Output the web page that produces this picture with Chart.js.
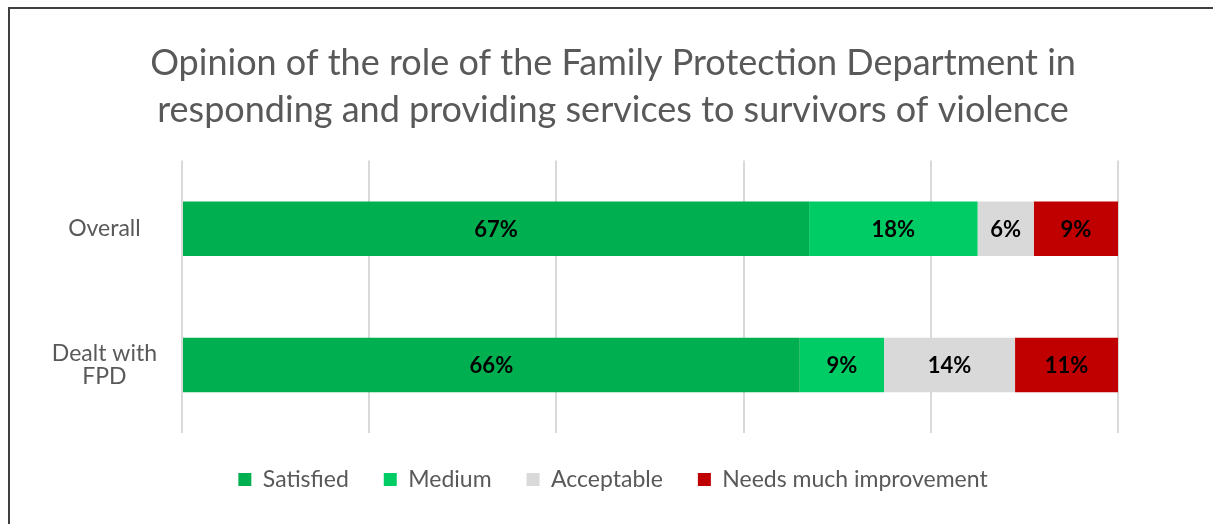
<!DOCTYPE html>
<html>
<head>
<meta charset="utf-8">
<script src="https://cdn.jsdelivr.net/npm/chart.js@4.4.0/dist/chart.umd.min.js"></script>
<style>
  html, body { margin: 0; padding: 0; background: #fff; }
  #wrap { position: relative; width: 1213px; height: 524px; }
  #frame { position: absolute; left: 8px; top: 7px; right: 0; bottom: 0;
           border-left: 2px solid #3f3f3f; border-top: 2px solid #3f3f3f; pointer-events: none; }
  canvas { position: absolute; left: 0; top: 0; }
</style>
</head>
<body>
<div id="wrap">
  <canvas id="opiniaoChart" width="1213" height="524"></canvas>
  <div id="frame"></div>
</div>
<script>
// categorias e séries
const categorias = [["Overall"], ["Dealt with", "FPD"]];
const satisfeito = [67, 66];
const medio = [18, 9];
const aceitavel = [6, 14];
const melhorar = [9, 11];
const nomesSeries = ["Satisfied", "Medium", "Acceptable", "Needs much improvement"];
const coresSeries = ["#00B050", "#00CC66", "#D9D9D9", "#C00000"];

const fonte = "Lato, 'Open Sans', sans-serif";

// escreve o valor dentro de cada barra
const rotulosBarras = {
  id: "rotulosBarras",
  afterDatasetsDraw(chart) {
    const ctx = chart.ctx;
    ctx.save();
    ctx.font = "bold 22px " + fonte;
    ctx.fillStyle = "#000";
    ctx.textAlign = "center";
    ctx.textBaseline = "middle";
    chart.data.datasets.forEach((ds, i) => {
      chart.getDatasetMeta(i).data.forEach((bar, j) => {
        const p = bar.getProps(["x", "y", "base"], true);
        ctx.fillText(ds.data[j] + "%", (p.x + p.base) / 2, p.y + 1);
      });
    });
    ctx.restore();
  }
};

const dados = {
  labels: categorias,
  datasets: [satisfeito, medio, aceitavel, melhorar].map((valores, i) => ({
    label: nomesSeries[i],
    data: valores,
    backgroundColor: coresSeries[i],
    borderWidth: 0,
    barPercentage: 0.8,
    categoryPercentage: 0.5
  }))
};

new Chart(document.getElementById("opiniaoChart").getContext("2d"), {
  type: "bar",
  data: dados,
  options: {
    indexAxis: "y",
    responsive: false,
    animation: false,
    layout: { padding: { top: 0, left: 13, right: 0, bottom: 23 } },
    scales: {
      x: {
        stacked: true,
        min: 0,
        max: 100,
        afterFit: (scale) => { scale.height = 0; },
        ticks: { display: false, stepSize: 20 },
        grid: { color: "#D9D9D9", lineWidth: 2, drawTicks: false },
        border: { display: false }
      },
      y: {
        stacked: true,
        afterFit: (scale) => { scale.width = 169; },
        ticks: {
          color: "#595959",
          font: { family: fonte, size: 23, lineHeight: 1.0 },
          padding: 17,
          crossAlign: "center"
        },
        grid: { display: false },
        border: { display: false }
      },
      // eixo vazio só para reservar a margem da direita
      margemDireita: {
        type: "linear",
        axis: "y",
        position: "right",
        afterFit: (scale) => { scale.width = 95; },
        ticks: { display: false },
        grid: { display: false },
        border: { display: false }
      }
    },
    plugins: {
      title: {
        display: true,
        text: ["Opinion of the role of the Family Protection Department in",
               "responding and providing services to survivors of violence"],
        color: "#595959",
        font: { family: fonte, size: 36, weight: "normal", lineHeight: 1.3 },
        padding: { top: 40, bottom: 27 }
      },
      legend: {
        position: "bottom",
        labels: {
          color: "#595959",
          font: { family: fonte, size: 23 },
          boxWidth: 13,
          boxHeight: 13,
          padding: 35
        }
      },
      tooltip: { enabled: false }
    }
  },
  plugins: [rotulosBarras]
});
</script>
</body>
</html>
